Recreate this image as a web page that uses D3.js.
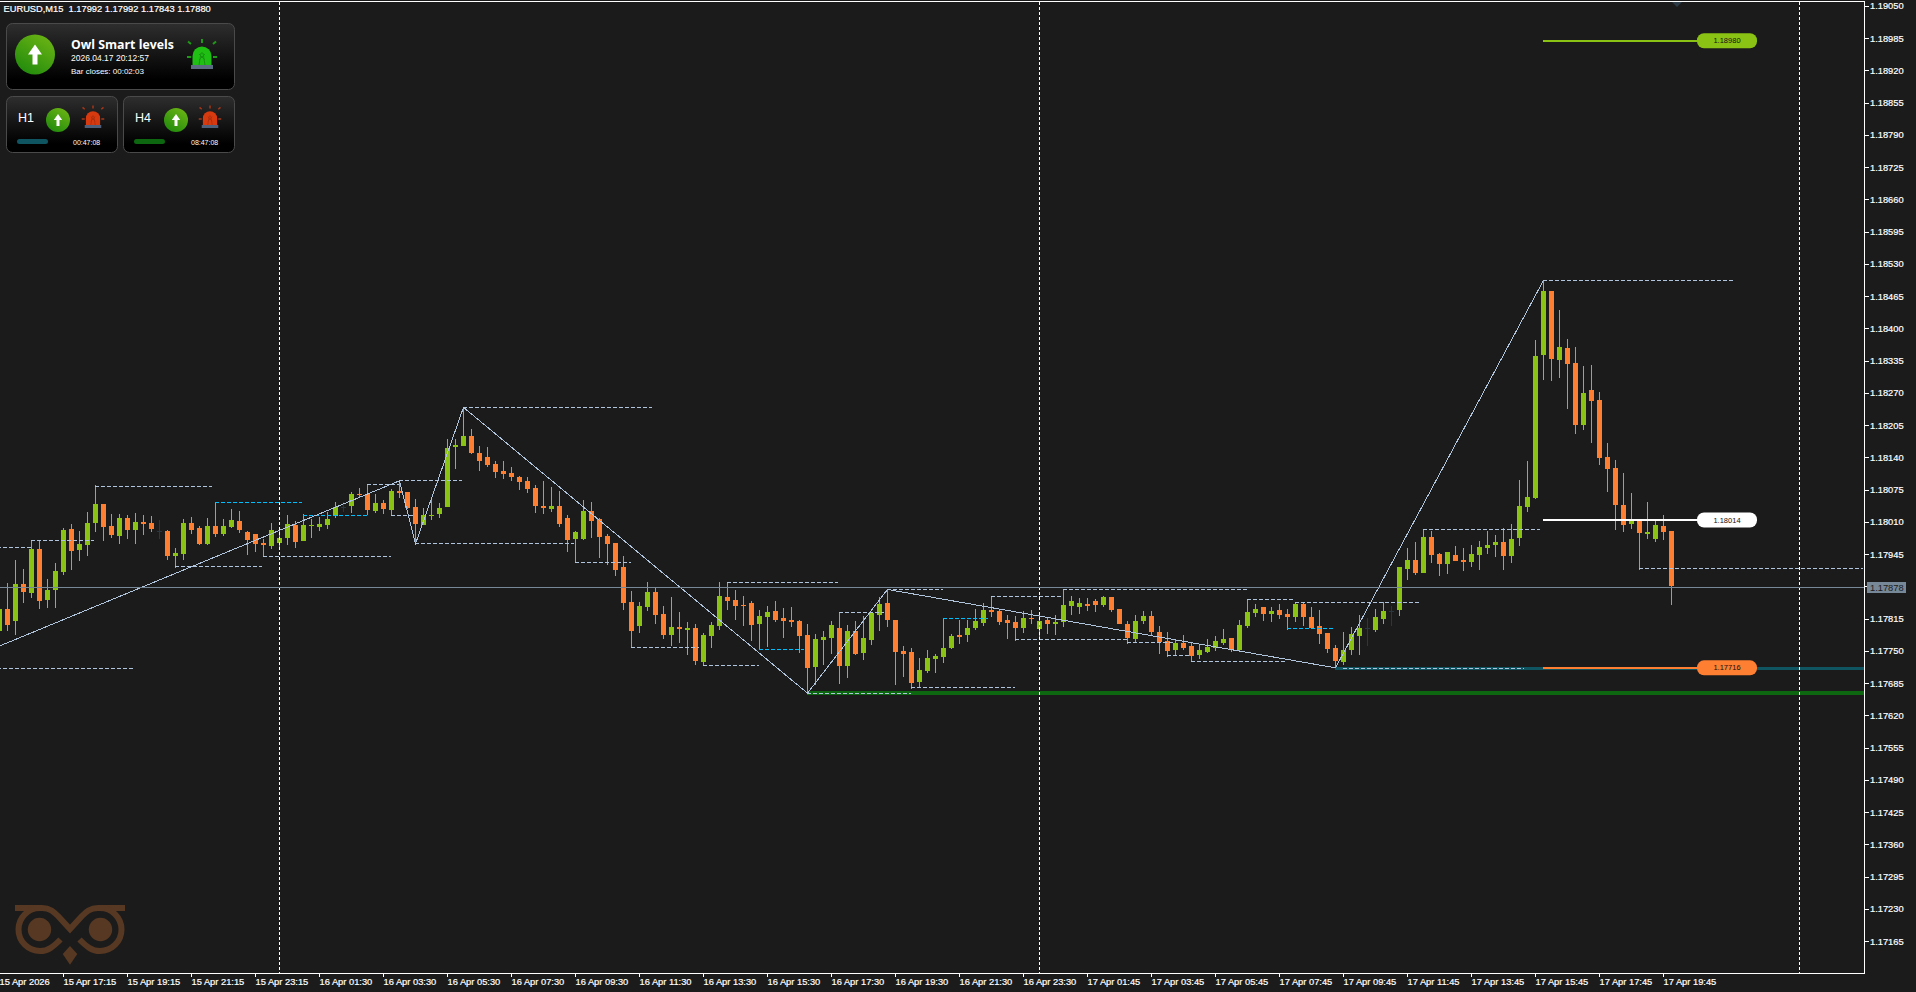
<!DOCTYPE html>
<html lang="en">
<head>
    <meta charset="UTF-8">
    <title>EURUSD,M15</title>
    <style>
        html, body { margin: 0; padding: 0; background: #1b1b1b; overflow: hidden; }
        svg { display: block; font-family: "Liberation Sans", sans-serif; }
    </style>
</head>
<body>
<script src="https://cdn.jsdelivr.net/npm/d3@7"></script>
<script>
    const width = 1916;
    const height = 992;

    // prices in points (1.17992 = 117992), one entry per M15 bar
    const opens = [
        117791,117834,117811,117885,117867,117956,117853,117873,117909,117996,
        117954,117964,118008,118046,118002,117982,118018,117994,118010,118008,
        117992,117992,117942,117946,118008,117998,117966,118002,117986,118000,
        118012,117990,117986,117968,117962,117968,117978,118004,117972,118002,
        118000,118004,118022,118040,118042,118067,118067,118032,118048,118034,
        118073,118071,118040,118004,118022,118026,118040,118161,118163,118183,
        118149,118141,118127,118113,118109,118101,118093,118078,118042,118036,
        118042,118018,117976,117976,118032,118016,117982,117968,117919,117849,
        117800,117839,117869,117825,117782,117798,117792,117796,117728,117780,
        117800,117859,117853,117843,117847,117804,117818,117831,117816,117812,
        117810,117782,117718,117772,117776,117796,117720,117790,117746,117772,
        117823,117846,117812,117750,117748,117687,117709,117733,117737,117756,
        117782,117782,117796,117806,117832,117830,117812,117808,117796,117816,
        117794,117812,117804,117808,117840,117838,117844,117850,117842,117858,
        117834,117804,117774,117810,117820,117788,117770,117752,117766,117760,
        117742,117748,117756,117766,117776,117752,117800,117826,117838,117824,
        117832,117824,117818,117844,117818,117800,117786,117756,117728,117752,
        117780,117796,117792,117814,117831,117833,117915,117933,117907,117980,
        117945,117925,117943,117933,117929,117943,117958,117964,117970,117941,
        117978,118040,118058,118347,118476,118336,118361,118330,118205,118276,
        118256,118141,118119,118044,118006,118012,117986,117976,118002,117992
    ];
    const highs = [
        117839,117887,117934,117915,117973,117973,117895,117927,117998,118006,
        117992,118030,118084,118046,118026,118026,118024,118028,118024,118022,
        118014,117994,117958,118016,118020,118002,118018,118050,118016,118036,
        118032,117992,117986,117976,118008,117998,118024,118012,118026,118016,
        118020,118030,118050,118050,118071,118079,118086,118067,118054,118077,
        118093,118071,118056,118038,118058,118048,118177,118177,118241,118198,
        118163,118161,118133,118133,118121,118103,118101,118085,118093,118080,
        118072,118024,117992,118054,118050,118018,117986,117968,117941,117871,
        117849,117889,117879,117841,117859,117829,117808,117804,117786,117808,
        117889,117890,117873,117861,117851,117833,117841,117851,117837,117839,
        117812,117804,117784,117790,117810,117829,117802,117810,117820,117829,
        117859,117874,117812,117760,117756,117735,117752,117744,117815,117784,
        117812,117812,117834,117846,117860,117834,117822,117820,117830,117832,
        117826,117818,117822,117875,117860,117856,117856,117854,117860,117858,
        117834,117810,117822,117830,117830,117800,117788,117774,117782,117766,
        117762,117774,117780,117794,117776,117812,117854,117844,117838,117838,
        117844,117834,117848,117848,117838,117832,117786,117762,117788,117798,
        117822,117816,117835,117848,117841,117919,117958,117970,117996,117992,
        117947,117949,117962,117958,117964,117972,117992,117984,117998,118006,
        118095,118133,118377,118497,118476,118437,118379,118363,118324,118326,
        118272,118169,118135,118109,118068,118012,118050,118014,118024,117992
    ];
    const lows = [
        117786,117790,117782,117847,117857,117835,117837,117837,117903,117913,
        117932,117942,117990,117972,117978,117966,117976,117966,117984,117990,
        117976,117934,117917,117934,117986,117964,117964,117980,117982,117998,
        117988,117944,117950,117941,117956,117954,117964,117958,117972,117978,
        117992,117996,118018,118030,118028,118058,118024,118028,118026,118024,
        118058,118036,117966,118004,118013,118018,118040,118117,118163,118147,
        118113,118121,118099,118097,118093,118074,118068,118028,118026,118030,
        117999,117949,117929,117974,117978,117937,117923,117901,117833,117759,
        117786,117831,117804,117774,117760,117766,117742,117722,117721,117756,
        117792,117833,117812,117800,117770,117753,117758,117808,117776,117798,
        117746,117665,117681,117722,117744,117683,117695,117742,117732,117762,
        117790,117798,117681,117697,117673,117677,117705,117705,117725,117754,
        117764,117768,117792,117800,117818,117802,117774,117770,117786,117804,
        117774,117784,117782,117798,117822,117824,117830,117828,117838,117828,
        117804,117764,117768,117804,117782,117744,117737,117742,117752,117729,
        117733,117746,117750,117762,117748,117750,117796,117818,117810,117808,
        117814,117793,117808,117800,117795,117764,117746,117716,117722,117742,
        117742,117760,117788,117804,117800,117820,117893,117903,117907,117927,
        117901,117905,117931,117911,117919,117913,117945,117939,117913,117927,
        117962,118030,118056,118296,118294,118300,118238,118187,118195,118169,
        118125,118070,117994,117990,117996,117913,117976,117970,117974,117843
    ];
    const closes = [
        117834,117803,117885,117869,117956,117851,117873,117911,117994,117952,
        117966,118008,118046,118000,117984,118018,117994,118010,118006,117996,
        117992,117942,117948,118008,117994,117966,118002,117986,118002,118014,
        117994,117974,117966,117964,117994,117978,118006,117970,118004,118004,
        118006,118016,118040,118040,118067,118065,118034,118048,118036,118073,
        118069,118038,118006,118024,118024,118038,118159,118165,118183,118149,
        118133,118125,118111,118107,118101,118091,118076,118042,118038,118042,
        118006,117974,117990,118032,118012,117980,117966,117913,117847,117790,
        117841,117869,117823,117782,117798,117794,117796,117730,117782,117802,
        117861,117851,117841,117841,117802,117821,117829,117812,117810,117808,
        117780,117716,117774,117778,117802,117720,117790,117744,117776,117827,
        117845,117812,117748,117744,117685,117711,117735,117739,117756,117780,
        117778,117796,117810,117832,117828,117808,117806,117796,117816,117814,
        117810,117804,117808,117842,117850,117846,117840,117842,117858,117832,
        117804,117776,117810,117820,117788,117768,117750,117766,117756,117740,
        117752,117758,117770,117774,117752,117802,117828,117834,117824,117830,
        117822,117818,117844,117818,117796,117784,117754,117729,117752,117784,
        117796,117796,117818,117831,117831,117919,117933,117907,117980,117943,
        117925,117949,117931,117929,117945,117960,117964,117970,117941,117976,
        118042,118060,118345,118476,118338,118363,118328,118205,118270,118254,
        118139,118117,118044,118004,118012,117988,117990,118004,117990,117880
    ];

    const priceTicks = [1.19050,1.18985,1.18920,1.18855,1.18790,1.18725,1.18660,1.18595,1.18530,1.18465,
        1.18400,1.18335,1.18270,1.18205,1.18140,1.18075,1.18010,1.17945,1.17880,1.17815,
        1.17750,1.17685,1.17620,1.17555,1.17490,1.17425,1.17360,1.17295,1.17230,1.17165];

    const timeLabels = ["15 Apr 2026","15 Apr 17:15","15 Apr 19:15","15 Apr 21:15","15 Apr 23:15",
        "16 Apr 01:30","16 Apr 03:30","16 Apr 05:30","16 Apr 07:30","16 Apr 09:30","16 Apr 11:30",
        "16 Apr 13:30","16 Apr 15:30","16 Apr 17:30","16 Apr 19:30","16 Apr 21:30","16 Apr 23:30",
        "17 Apr 01:45","17 Apr 03:45","17 Apr 05:45","17 Apr 07:45","17 Apr 09:45","17 Apr 11:45",
        "17 Apr 13:45","17 Apr 15:45","17 Apr 17:45","17 Apr 19:45"];
    const timeTickBars = [0,8,16,24,32,40,48,56,64,72,80,88,96,104,112,120,128,136,144,152,160,168,176,184,192,200,208];

    // zigzag swing points: bar number and price
    const zigBars = [0, 50, 52, 58, 101, 111, 167, 193];
    const zigPrices = [117760, 118093, 117966, 118241, 117665, 117874, 117716, 118497];

    // dashed swing levels
    const dashPrices = [117959, 117973, 118083, 117921, 117941, 118086, 118094, 118025, 117967, 118241, 117715,
        117929, 117890, 117759, 117721, 117828, 117874, 117677, 117665, 117860, 117774, 117874, 117768, 117741,
        117729, 117854, 117848, 117995, 118497, 117917, 117716];
    const dashFrom = [-4, 4, 12, 22, 33, 46, 50, 49, 52, 58, -4, 72, 91, 79, 88, 105, 111, 114, 101, 124, 127, 133, 141, 146,
        149, 156, 162, 178, 193, 205, 168];
    const dashTo = [4, 11.9, 26.6, 32.9, 49, 50, 57.9, 51.8, 71.9, 81.6, 16.8, 79, 104.9, 87.5, 95, 110.6, 118, 127, 114, 133,
        141, 156, 147, 149, 160.7, 161.7, 177.6, 192.6, 216.7, 233, 190.6];

    const cyanPrices = [118050, 118025, 117755, 117816, 117796];
    const cyanFrom = [27, 38, 95, 118, 161];
    const cyanTo = [37.9, 46, 100.6, 123.6, 166.75];

    // thick zones that run to the right edge, then the three labelled levels
    const zonePrices = [117716, 117665];
    const zoneFrom = [167, 101];
    const levelPrices = [1.18980, 1.18014, 1.17716];
    const levelNames = ["1.18980", "1.18014", "1.17716"];

    const bidPrice = 1.17878;
    const separatorBars = [35, 130, 225];

    const background = "#1b1b1b";
    const bull = "#8bc314";
    const bear = "#ff7f32";
    const dojiColor = "#2a3640";
    const steel = "#b0c4de";
    const cyan = "#00bfff";
    const levelColors = [bull, "#ffffff", bear];
    const zoneColors = ["#0f5561", "#0d6610"];

    const x = d3.scaleLinear().domain([0, 209]).range([-1, 1671]);
    const y = d3.scaleLinear().domain([1.17101, 1.1906]).range([973, 1]);
    const py = p => y(p / 100000);

    const svg = d3.select("body")
        .append("svg")
        .attr("width", width)
        .attr("height", height)
        .style("background", background);

    const chart = svg.append("g").attr("shape-rendering", "crispEdges");

    // zones first, candles draw over them
    chart.append("g").selectAll("rect")
        .data(zonePrices)
        .enter().append("rect")
        .attr("x", (d, i) => x(zoneFrom[i]))
        .attr("width", (d, i) => 1864 - x(zoneFrom[i]))
        .attr("y", (d, i) => Math.round(py(d)) - (i ? 2 : 1))
        .attr("height", (d, i) => i ? 4 : 3)
        .attr("fill", (d, i) => zoneColors[i]);

    const bars = d3.range(opens.length);
    const candle = chart.append("g").selectAll("g")
        .data(bars)
        .enter().append("g")
        .attr("fill", i => closes[i] > opens[i] ? bull : closes[i] < opens[i] ? bear : dojiColor);

    candle.append("rect")
        .attr("x", i => x(i))
        .attr("width", 1)
        .attr("y", i => Math.round(py(highs[i])))
        .attr("height", i => Math.round(py(lows[i])) - Math.round(py(highs[i])));

    candle.append("rect")
        .attr("x", i => x(i) - 2)
        .attr("width", 5)
        .attr("y", i => Math.round(py(Math.max(opens[i], closes[i]))))
        .attr("height", i => Math.max(1, Math.round(py(Math.min(opens[i], closes[i]))) - Math.round(py(Math.max(opens[i], closes[i])))));

    // dashed levels
    function drawDashes(prices, from, to, color) {
        chart.append("g").selectAll("line")
            .data(prices)
            .enter().append("line")
            .attr("x1", (d, i) => x(from[i]))
            .attr("x2", (d, i) => x(to[i]))
            .attr("y1", d => Math.round(py(d)) + 0.5)
            .attr("y2", d => Math.round(py(d)) + 0.5)
            .attr("stroke", color)
            .attr("stroke-dasharray", "4,2");
    }
    drawDashes(dashPrices, dashFrom, dashTo, steel);
    drawDashes(cyanPrices, cyanFrom, cyanTo, cyan);

    // zigzag
    const zigLine = d3.line()
        .x(i => x(zigBars[i]) + 0.5)
        .y(i => py(zigPrices[i]));
    chart.append("path")
        .attr("d", zigLine(d3.range(zigBars.length)))
        .attr("fill", "none")
        .attr("stroke", steel);

    // period separators
    chart.append("g").selectAll("line")
        .data(separatorBars)
        .enter().append("line")
        .attr("x1", d => x(d) + 0.5)
        .attr("x2", d => x(d) + 0.5)
        .attr("y1", 2)
        .attr("y2", 973)
        .attr("stroke", "#ffffff")
        .attr("stroke-dasharray", "3,2");

    // bid line
    chart.append("line")
        .attr("x1", 0).attr("x2", 1864)
        .attr("y1", Math.round(y(bidPrice)) + 0.5)
        .attr("y2", Math.round(y(bidPrice)) + 0.5)
        .attr("stroke", "#778899");

    // labelled levels with their pills
    const level = svg.append("g").selectAll("g")
        .data(levelPrices)
        .enter().append("g");

    level.append("rect")
        .attr("x", x(193))
        .attr("width", 160)
        .attr("y", d => Math.round(y(d)) - 1)
        .attr("height", 2)
        .attr("shape-rendering", "crispEdges")
        .attr("fill", (d, i) => levelColors[i]);

    level.append("rect")
        .attr("x", 1697)
        .attr("width", 60)
        .attr("y", d => y(d) - 7.5)
        .attr("height", 15)
        .attr("rx", 7)
        .attr("fill", (d, i) => levelColors[i]);

    level.append("text")
        .attr("x", 1727)
        .attr("y", d => y(d))
        .attr("dy", "0.35em")
        .attr("text-anchor", "middle")
        .attr("font-size", 7.5)
        .attr("fill", "#111")
        .text((d, i) => levelNames[i]);

    // axes
    const yAxis = d3.axisRight(y)
        .tickValues(priceTicks)
        .tickFormat(d3.format(".5f"))
        .tickSize(5)
        .tickPadding(1)
        .tickSizeOuter(0);
    const xAxis = d3.axisBottom(x)
        .tickValues(timeTickBars)
        .tickFormat((d, i) => timeLabels[i])
        .tickSize(4)
        .tickPadding(1.5)
        .tickSizeOuter(0);

    const axisRight = svg.append("g")
        .attr("transform", "translate(1864,0)")
        .attr("shape-rendering", "crispEdges")
        .call(yAxis);
    const axisBottom = svg.append("g")
        .attr("transform", "translate(0,973)")
        .attr("shape-rendering", "crispEdges")
        .call(xAxis);
    axisBottom.select(".domain").attr("d", "M0,0.5H1864");
    [axisRight, axisBottom].forEach(a => {
        a.selectAll(".domain, line").attr("stroke", "#fff");
        a.selectAll("text")
            .attr("fill", "#fff")
            .attr("font-size", 9.3)
            .attr("font-family", "Liberation Sans")
            .attr("stroke", "#fff")
            .attr("stroke-width", 0.2);
    });
    axisBottom.selectAll("text").attr("text-anchor", "start");

    svg.append("rect").attr("x", 0).attr("y", 1).attr("width", 1865).attr("height", 1).attr("fill", "#fff");

    // small shift marker on the top edge
    svg.append("path").attr("d", "M1672,2H1682L1677,7Z").attr("fill", "#2d3b47");

    // price tag for the bid
    svg.append("rect")
        .attr("x", 1867).attr("y", Math.round(y(bidPrice)) - 5)
        .attr("width", 39).attr("height", 11)
        .attr("fill", "#778899");
    svg.append("text")
        .attr("x", 1870).attr("y", Math.round(y(bidPrice)) + 0.5)
        .attr("dy", "0.35em")
        .attr("font-size", 9.3)
        .attr("fill", "#1b1b1b")
        .text(d3.format(".5f")(bidPrice));

    svg.append("text")
        .attr("x", 3.5).attr("y", 11.5)
        .attr("font-size", 9.3)
        .attr("fill", "#fff")
        .attr("stroke", "#fff")
        .attr("stroke-width", 0.2)
        .style("white-space", "pre")
        .text("EURUSD,M15  1.17992 1.17992 1.17843 1.17880");

    // dashboard panels
    const defs = svg.append("defs");
    const panelGrad = defs.append("linearGradient").attr("id", "panelGrad").attr("x1", 0).attr("x2", 0).attr("y1", 0).attr("y2", 1);
    panelGrad.append("stop").attr("offset", 0).attr("stop-color", "#2e2e2e");
    panelGrad.append("stop").attr("offset", 0.85).attr("stop-color", "#000");
    const upGrad = defs.append("linearGradient").attr("id", "upGrad").attr("x1", 0.8).attr("x2", 0.2).attr("y1", 0).attr("y2", 1);
    upGrad.append("stop").attr("offset", 0).attr("stop-color", "#6cb414");
    upGrad.append("stop").attr("offset", 1).attr("stop-color", "#1f8a0c");

    function panel(px, py_, w, h) {
        svg.append("rect")
            .attr("x", px + 0.5).attr("y", py_ + 0.5)
            .attr("width", w).attr("height", h)
            .attr("rx", 6)
            .attr("fill", "url(#panelGrad)")
            .attr("stroke", "#4a4a4a");
    }

    function upIcon(cx, cy, r) {
        svg.append("circle").attr("cx", cx).attr("cy", cy).attr("r", r).attr("fill", "url(#upGrad)");
        const s = r / 20;
        svg.append("path")
            .attr("transform", `translate(${cx},${cy}) scale(${s})`)
            .attr("d", "M0,-10L7,0H2.5V10H-2.5V0H-7Z")
            .attr("fill", "#fff");
    }

    function siren(cx, cy, s, dome, ray, baseColor) {
        const g = svg.append("g").attr("transform", `translate(${cx},${cy}) scale(${s})`);
        g.append("path").attr("d", "M-9.5,8V-1A9.5,9.5 0 0 1 9.5,-1V8Z").attr("fill", dome);
        g.append("rect").attr("x", -11).attr("y", 8).attr("width", 22).attr("height", 4).attr("fill", baseColor);
        g.append("path").attr("d", "M-3,8L-1,-4H1L3,8M-3,-3L3,3M3,-3L-3,3").attr("fill", "none").attr("stroke", d3.color(dome).darker(0.7)).attr("stroke-width", 1);
        g.append("path")
            .attr("d", "M0,-18V-14M-11,-13L-14,-15.5M11,-13L14,-15.5M-15,0H-11M11,0H15")
            .attr("fill", "none").attr("stroke", ray).attr("stroke-width", 2);
    }

    function label(tx, ty, size, text, weight, family) {
        svg.append("text")
            .attr("x", tx).attr("y", ty)
            .attr("font-size", size)
            .attr("font-weight", weight || "normal")
            .attr("font-family", family || "Liberation Sans")
            .attr("fill", "#fff")
            .text(text);
    }

    panel(6, 23, 228, 66);
    panel(6, 96, 111, 56);
    panel(123, 96, 111, 56);

    upIcon(35, 54.5, 20);
    upIcon(58, 120, 12);
    upIcon(176, 120, 12);

    siren(202, 57, 1, "#1fbf14", "#1f9a16", "#5b6b80");
    siren(93, 119, 0.75, "#d83a10", "#a5361a", "#4f5f7a");
    siren(210, 119, 0.75, "#d83a10", "#a5361a", "#4f5f7a");

    label(71, 49, 12.3, "Owl Smart levels", "bold", "Open Sans");
    label(71, 61, 8.5, "2026.04.17 20:12:57");
    label(71, 74, 8, "Bar closes: 00:02:03");
    label(18, 122, 12.5, "H1");
    label(135, 122, 12.5, "H4");
    label(73, 145, 7, "00:47:08");
    label(191, 145, 7, "08:47:08");

    svg.append("rect").attr("x", 17).attr("y", 139).attr("width", 31).attr("height", 5).attr("rx", 2.5).attr("fill", "#0f5561");
    svg.append("rect").attr("x", 134).attr("y", 139).attr("width", 31).attr("height", 5).attr("rx", 2.5).attr("fill", "#0d6610");

    // owl logo
    const owl = svg.append("g").attr("fill", "none").attr("stroke", "#573823").attr("stroke-width", 6);
    owl.append("path").attr("d", "M15,908H42C50,908 54,912 58,916L70,929L82,916C86,912 90,908 98,908H125");
    owl.append("path").attr("d", "M40,908A21.5,21.5 0 0 0 40,951C48,951 53,947 60.5,939.5");
    owl.append("path").attr("d", "M100,908A21.5,21.5 0 0 1 100,951C92,951 87,947 79.5,939.5");
    svg.append("circle").attr("cx", 39.5).attr("cy", 929.5).attr("r", 11.7).attr("fill", "#573823");
    svg.append("circle").attr("cx", 100.5).attr("cy", 929.5).attr("r", 11.7).attr("fill", "#573823");
    svg.append("path").attr("d", "M70,946L77.3,954L70,964.7L62.7,954Z").attr("fill", "#573823");
</script>
</body>
</html>
